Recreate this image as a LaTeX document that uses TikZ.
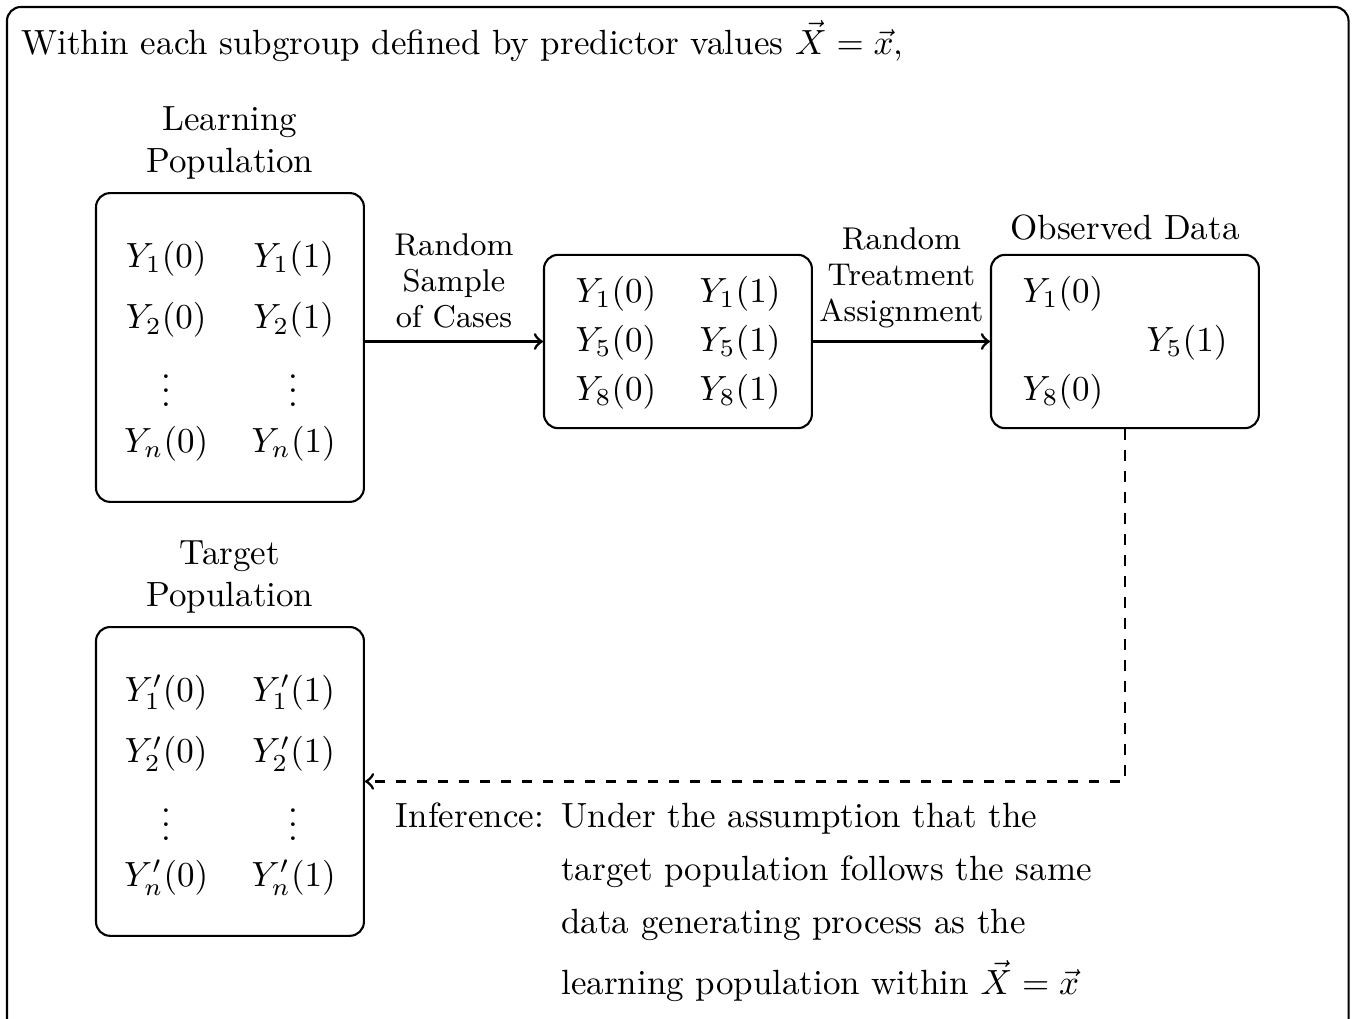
\documentclass[tikz,border=0pt]{standalone}
\usetikzlibrary{positioning}
\setlength{\arraycolsep}{6.2pt}
\newcommand{\ygrid}[2]{{\renewcommand{\arraystretch}{#1}$\begin{array}{cc}#2\end{array}$}}
\newcommand{\ydots}{\smash{\raisebox{-4.5pt}{$\vdots$}}}
\begin{document}
\begin{tikzpicture}[thick,
        box/.style = {draw, semithick, rounded corners, inner xsep=0pt, minimum width=2.69cm, minimum height=1.74cm},
        pop/.style = {box, minimum height=3.10cm},
        step label/.style = {above, align=center, font=\fontsize{9}{10.3}\selectfont}]
        \useasboundingbox (0,0) rectangle (13.605,-10.231);
        \draw[semithick, rounded corners] (0.07,-0.07) rectangle (13.54,-10.6);

        \node[anchor=base west, inner sep=0pt] (0) at (0.2,-0.55) {Within each subgroup defined by predictor values $\vec{X} = \vec{x}$,};

        \node[pop, label={[align=center]above:Learning\\Population}] (1) at (2.309,-3.489)
            {\ygrid{1.47}{Y_1(0) & Y_1(1) \\ Y_2(0) & Y_2(1) \\ \ydots & \ydots \\ Y_n(0) & Y_n(1)}};
        \node[box] (2) at (6.807,-3.429)
            {\ygrid{1.17}{Y_1(0) & Y_1(1) \\ Y_5(0) & Y_5(1) \\ Y_8(0) & Y_8(1)}};
        \node[box, label=above:Observed Data] (3) [right of=2, node distance=4.488cm]
            {\ygrid{1.17}{Y_1(0) & \phantom{Y_1(1)} \\ & Y_5(1) \\ Y_8(0) & }};
        \node[pop, label={[align=center]above:Target\\Population}] (4) [below of=1, node distance=4.357cm]
            {\ygrid{1.47}{Y'_1(0) & Y'_1(1) \\ Y'_2(0) & Y'_2(1) \\ \ydots & \ydots \\ Y'_n(0) & Y'_n(1)}};

        \draw[->] (1.east |- 2.west) -- node[step label] {Random\\Sample\\of Cases} (2.west);
        \draw[->] (2) -- node[step label] {Random\\Treatment\\Assignment} (3);
        \draw[->, dashed] (3) |- (4);

        \node[anchor=north west] (5) at ([xshift=0.18cm, yshift=0.04cm]4.east)
            {\renewcommand{\arraystretch}{1.26}\begin{tabular}{@{}l@{\hspace{5pt}}l@{}}
                Inference: & Under the assumption that the \\
                & target population follows the same \\
                & data generating process as the \\[2.3pt]
                & learning population within $\vec{X} = \vec{x}$
            \end{tabular}};

    \end{tikzpicture}
\end{document}
